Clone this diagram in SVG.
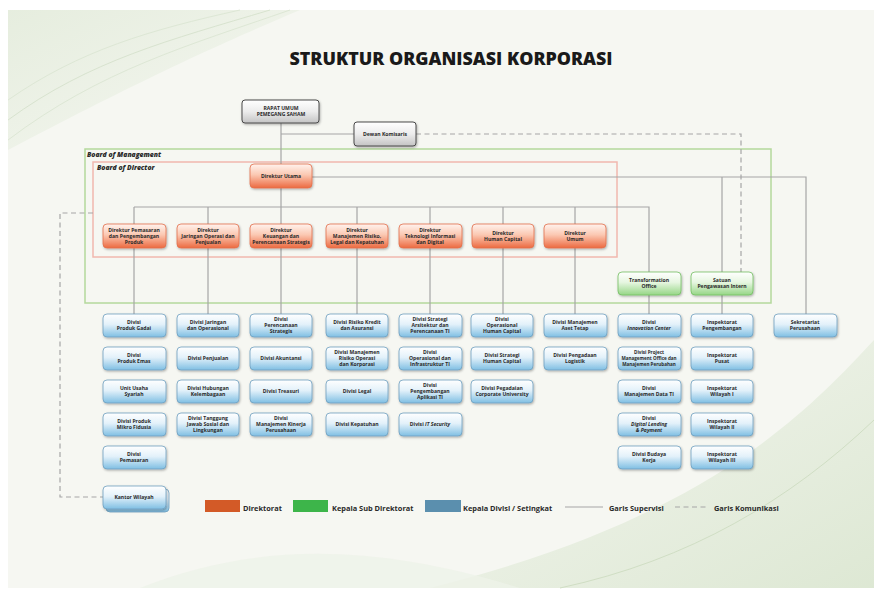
<svg xmlns="http://www.w3.org/2000/svg" width="881" height="594" viewBox="0 0 881 594">
<defs>
<linearGradient id="gOr" x1="0" y1="0" x2="0" y2="1"><stop offset="0" stop-color="#fff3ee"/><stop offset="0.45" stop-color="#fbc8b2"/><stop offset="1" stop-color="#ec6a40"/></linearGradient>
<linearGradient id="gBl" x1="0" y1="0" x2="0" y2="1"><stop offset="0" stop-color="#ffffff"/><stop offset="0.45" stop-color="#e3f1fa"/><stop offset="1" stop-color="#7fbfe3"/></linearGradient>
<linearGradient id="gGr" x1="0" y1="0" x2="0" y2="1"><stop offset="0" stop-color="#ffffff"/><stop offset="0.45" stop-color="#e6f6e0"/><stop offset="1" stop-color="#96d686"/></linearGradient>
<linearGradient id="gGy" x1="0" y1="0" x2="0" y2="1"><stop offset="0" stop-color="#ffffff"/><stop offset="0.5" stop-color="#ececec"/><stop offset="1" stop-color="#c4c4c4"/></linearGradient>
<linearGradient id="bgSw" x1="0" y1="0" x2="1" y2="1"><stop offset="0" stop-color="#dfe9d6"/><stop offset="1" stop-color="#f5f7f1"/></linearGradient>
<linearGradient id="bgSw2" x1="0" y1="0" x2="1" y2="1"><stop offset="0" stop-color="#f5f7f1"/><stop offset="1" stop-color="#d7e4cc"/></linearGradient>
<filter id="sh" x="-10%" y="-10%" width="125%" height="140%"><feDropShadow dx="0.8" dy="1.2" stdDeviation="0.8" flood-color="#000" flood-opacity="0.3"/></filter>
</defs>
<style>
.t{font-family:"Open Sans","Liberation Sans",sans-serif;font-weight:700;font-size:5.1px;fill:#2a2a2a;text-anchor:middle}
.or{fill:url(#gOr);stroke:#e2704c;stroke-width:0.8}
.bl{fill:url(#gBl);stroke:#6f9fbf;stroke-width:0.8}
.gr{fill:url(#gGr);stroke:#74bf62;stroke-width:0.8}
.gy{fill:url(#gGy);stroke:#4a4a4a;stroke-width:1}
.ln{fill:none;stroke:#a6a6a6;stroke-width:1.2}
.dl{fill:none;stroke:#a6a6a6;stroke-width:1.2;stroke-dasharray:5 3.5}
.lg{font-family:"Open Sans","Liberation Sans",sans-serif;font-weight:700;font-size:7.4px;fill:#2a2a2a}
.bd{font-family:"Open Sans","Liberation Sans",sans-serif;font-weight:800;font-style:italic;font-size:6.8px;fill:#2a2a2a}
</style>
<rect x="0" y="0" width="881" height="594" fill="#ffffff"/>
<rect x="8" y="10" width="866" height="578" fill="#f6f7f2"/>
<path d="M8 10 L300 10 C230 40 160 70 8 150 Z" fill="url(#bgSw)" opacity="0.7"/>
<path d="M8 120 C90 60 170 40 270 10" fill="none" stroke="#d8e3cf" stroke-width="1"/>
<path d="M8 140 C100 70 190 45 290 10" fill="none" stroke="#dde7d5" stroke-width="1"/>
<path d="M8 100 C80 50 150 30 240 10" fill="none" stroke="#dde7d5" stroke-width="1"/>
<path d="M874 340 C800 420 700 520 430 588 L874 588 Z" fill="url(#bgSw2)" opacity="0.8"/>
<path d="M874 420 C790 500 690 560 560 588" fill="none" stroke="#d0dec4" stroke-width="1"/>
<path d="M140 588 C260 540 380 545 520 588" fill="#eef2e8" opacity="0.8"/>

<text x="451" y="65" text-anchor="middle" textLength="323" lengthAdjust="spacingAndGlyphs" style="font-family:'Open Sans','Liberation Sans',sans-serif;font-weight:800;font-size:17px;fill:#1a1a1a">STRUKTUR ORGANISASI KORPORASI</text>

<!-- board frames -->
<rect x="85" y="149" width="686" height="154" fill="none" stroke="#b4d99c" stroke-width="1.5"/>
<text class="bd" x="87" y="157">Board of Management</text>
<rect x="93" y="162" width="524" height="95" fill="none" stroke="#f1b8ae" stroke-width="1.5"/>
<text class="bd" x="97" y="170">Board of Director</text>

<g id="connectors">
<path class="ln" d="M281 123 V164 M281 134 H354 M312 177 H806 V314 M722 177 V272 M722 295 V314 M281 188 V224 M134 207 H649 V272 M649 295 V314"/>
<path class="ln" d="M134 207 V224 M208 207 V224 M357 207 V224 M430 207 V224 M503 207 V224 M575 207 V224"/>
<path class="ln" d="M134 248 V314 M208 248 V314 M281 248 V314 M357 248 V314 M430 248 V314 M503 248 V314 M575 248 V314"/>
<path class="dl" d="M416 134 H741 V272"/>
<path class="dl" d="M93 213 H60 V497 H103"/>
</g>

<g id="rups"><rect class="gy" x="242" y="100" width="77" height="23" rx="3" filter="url(#sh)"/><text class="t" x="281" y="110"><tspan x="281">RAPAT UMUM</tspan><tspan x="281" dy="6">PEMEGANG SAHAM</tspan></text></g>
<g id="dekom"><rect class="gy" x="354" y="122" width="62" height="24" rx="3" filter="url(#sh)"/><text class="t" x="385" y="136">Dewan Komisaris</text></g>

<g id="dirut"><rect class="or" x="250" y="164" width="62" height="24" rx="4" filter="url(#sh)"/><text class="t" x="281" y="178">Direktur Utama</text></g>

<g id="d1"><rect class="or" x="103" y="224" width="63" height="24" rx="4" filter="url(#sh)"/><text class="t" x="134" y="232"><tspan x="134">Direktur Pemasaran</tspan><tspan x="134" dy="6">dan Pengembangan</tspan><tspan x="134" dy="6">Produk</tspan></text></g>
<g id="d2"><rect class="or" x="177" y="224" width="62" height="24" rx="4" filter="url(#sh)"/><text class="t" x="208" y="232"><tspan x="208">Direktur</tspan><tspan x="208" dy="6">Jaringan Operasi dan</tspan><tspan x="208" dy="6">Penjualan</tspan></text></g>
<g id="d3"><rect class="or" x="250" y="224" width="62" height="24" rx="4" filter="url(#sh)"/><text class="t" x="281" y="232"><tspan x="281">Direktur</tspan><tspan x="281" dy="6">Keuangan dan</tspan><tspan x="281" dy="6">Perencanaan Strategis</tspan></text></g>
<g id="d4"><rect class="or" x="326" y="224" width="62" height="24" rx="4" filter="url(#sh)"/><text class="t" x="357" y="232"><tspan x="357">Direktur</tspan><tspan x="357" dy="6">Manajemen Risiko,</tspan><tspan x="357" dy="6">Legal dan Kepatuhan</tspan></text></g>
<g id="d5"><rect class="or" x="399" y="224" width="63" height="24" rx="4" filter="url(#sh)"/><text class="t" x="430" y="232"><tspan x="430">Direktur</tspan><tspan x="430" dy="6">Teknologi Informasi</tspan><tspan x="430" dy="6">dan Digital</tspan></text></g>
<g id="d6"><rect class="or" x="472" y="224" width="62" height="24" rx="4" filter="url(#sh)"/><text class="t" x="503" y="235"><tspan x="503">Direktur</tspan><tspan x="503" dy="6">Human Capital</tspan></text></g>
<g id="d7"><rect class="or" x="544" y="224" width="62" height="24" rx="4" filter="url(#sh)"/><text class="t" x="575" y="235"><tspan x="575">Direktur</tspan><tspan x="575" dy="6">Umum</tspan></text></g>

<g id="to"><rect class="gr" x="618" y="272" width="63" height="23" rx="4" filter="url(#sh)"/><text class="t" x="649" y="282"><tspan x="649">Transformation</tspan><tspan x="649" dy="6">Office</tspan></text></g>
<g id="spi"><rect class="gr" x="691" y="272" width="62" height="23" rx="4" filter="url(#sh)"/><text class="t" x="722" y="282"><tspan x="722">Satuan</tspan><tspan x="722" dy="6">Pengawasan Intern</tspan></text></g>

<!-- column 1 -->
<g id="c1r1"><rect class="bl" x="103" y="314" width="63" height="23" rx="4" filter="url(#sh)"/><text class="t" x="134" y="324"><tspan x="134">Divisi</tspan><tspan x="134" dy="6">Produk Gadai</tspan></text></g>
<g id="c1r2"><rect class="bl" x="103" y="347" width="63" height="23" rx="4" filter="url(#sh)"/><text class="t" x="134" y="357"><tspan x="134">Divisi</tspan><tspan x="134" dy="6">Produk Emas</tspan></text></g>
<g id="c1r3"><rect class="bl" x="103" y="380" width="63" height="23" rx="4" filter="url(#sh)"/><text class="t" x="134" y="390"><tspan x="134">Unit Usaha</tspan><tspan x="134" dy="6">Syariah</tspan></text></g>
<g id="c1r4"><rect class="bl" x="103" y="413" width="63" height="23" rx="4" filter="url(#sh)"/><text class="t" x="134" y="423"><tspan x="134">Divisi Produk</tspan><tspan x="134" dy="6">Mikro Fidusia</tspan></text></g>
<g id="c1r5"><rect class="bl" x="103" y="446" width="63" height="23" rx="4" filter="url(#sh)"/><text class="t" x="134" y="456"><tspan x="134">Divisi</tspan><tspan x="134" dy="6">Pemasaran</tspan></text></g>
<g id="kanwil"><rect class="bl" x="106" y="489" width="63" height="23" rx="4"/><rect class="bl" x="103" y="486" width="63" height="23" rx="4" filter="url(#sh)"/><text class="t" x="134" y="499">Kantor Wilayah</text></g>

<!-- column 2 -->
<g id="c2r1"><rect class="bl" x="177" y="314" width="62" height="23" rx="4" filter="url(#sh)"/><text class="t" x="208" y="324"><tspan x="208">Divisi Jaringan</tspan><tspan x="208" dy="6">dan Operasional</tspan></text></g>
<g id="c2r2"><rect class="bl" x="177" y="347" width="62" height="23" rx="4" filter="url(#sh)"/><text class="t" x="208" y="360">Divisi Penjualan</text></g>
<g id="c2r3"><rect class="bl" x="177" y="380" width="62" height="23" rx="4" filter="url(#sh)"/><text class="t" x="208" y="390"><tspan x="208">Divisi Hubungan</tspan><tspan x="208" dy="6">Kelembagaan</tspan></text></g>
<g id="c2r4"><rect class="bl" x="177" y="413" width="62" height="23" rx="4" filter="url(#sh)"/><text class="t" x="208" y="420"><tspan x="208">Divisi Tanggung</tspan><tspan x="208" dy="6">Jawab Sosial dan</tspan><tspan x="208" dy="6">Lingkungan</tspan></text></g>

<!-- column 3 -->
<g id="c3r1"><rect class="bl" x="250" y="314" width="62" height="23" rx="4" filter="url(#sh)"/><text class="t" x="281" y="321"><tspan x="281">Divisi</tspan><tspan x="281" dy="6">Perencanaan</tspan><tspan x="281" dy="6">Strategis</tspan></text></g>
<g id="c3r2"><rect class="bl" x="250" y="347" width="62" height="23" rx="4" filter="url(#sh)"/><text class="t" x="281" y="360">Divisi Akuntansi</text></g>
<g id="c3r3"><rect class="bl" x="250" y="380" width="62" height="23" rx="4" filter="url(#sh)"/><text class="t" x="281" y="393">Divisi Treasuri</text></g>
<g id="c3r4"><rect class="bl" x="250" y="413" width="62" height="23" rx="4" filter="url(#sh)"/><text class="t" x="281" y="420"><tspan x="281">Divisi</tspan><tspan x="281" dy="6">Manajemen Kinerja</tspan><tspan x="281" dy="6">Perusahaan</tspan></text></g>

<!-- column 4 -->
<g id="c4r1"><rect class="bl" x="326" y="314" width="62" height="23" rx="4" filter="url(#sh)"/><text class="t" x="357" y="324"><tspan x="357">Divisi Risiko Kredit</tspan><tspan x="357" dy="6">dan Asuransi</tspan></text></g>
<g id="c4r2"><rect class="bl" x="326" y="347" width="62" height="23" rx="4" filter="url(#sh)"/><text class="t" x="357" y="354"><tspan x="357">Divisi Manajemen</tspan><tspan x="357" dy="6">Risiko Operasi</tspan><tspan x="357" dy="6">dan Korporasi</tspan></text></g>
<g id="c4r3"><rect class="bl" x="326" y="380" width="62" height="23" rx="4" filter="url(#sh)"/><text class="t" x="357" y="393">Divisi Legal</text></g>
<g id="c4r4"><rect class="bl" x="326" y="413" width="62" height="23" rx="4" filter="url(#sh)"/><text class="t" x="357" y="426">Divisi Kepatuhan</text></g>

<!-- column 5 -->
<g id="c5r1"><rect class="bl" x="399" y="314" width="63" height="23" rx="4" filter="url(#sh)"/><text class="t" x="430" y="321"><tspan x="430">Divisi Strategi</tspan><tspan x="430" dy="6">Arsitektur dan</tspan><tspan x="430" dy="6">Perencanaan TI</tspan></text></g>
<g id="c5r2"><rect class="bl" x="399" y="347" width="63" height="23" rx="4" filter="url(#sh)"/><text class="t" x="430" y="354"><tspan x="430">Divisi</tspan><tspan x="430" dy="6">Operasional dan</tspan><tspan x="430" dy="6">Infrastruktur TI</tspan></text></g>
<g id="c5r3"><rect class="bl" x="399" y="380" width="63" height="23" rx="4" filter="url(#sh)"/><text class="t" x="430" y="387"><tspan x="430">Divisi</tspan><tspan x="430" dy="6">Pengembangan</tspan><tspan x="430" dy="6">Aplikasi TI</tspan></text></g>
<g id="c5r4"><rect class="bl" x="399" y="413" width="63" height="23" rx="4" filter="url(#sh)"/><text class="t" x="430" y="426">Divisi <tspan font-style="italic">IT Security</tspan></text></g>

<!-- column 6 -->
<g id="c6r1"><rect class="bl" x="471" y="314" width="62" height="23" rx="4" filter="url(#sh)"/><text class="t" x="502" y="321"><tspan x="502">Divisi</tspan><tspan x="502" dy="6">Operasional</tspan><tspan x="502" dy="6">Human Capital</tspan></text></g>
<g id="c6r2"><rect class="bl" x="471" y="347" width="62" height="23" rx="4" filter="url(#sh)"/><text class="t" x="502" y="357"><tspan x="502">Divisi Strategi</tspan><tspan x="502" dy="6">Human Capital</tspan></text></g>
<g id="c6r3"><rect class="bl" x="471" y="380" width="62" height="23" rx="4" filter="url(#sh)"/><text class="t" x="502" y="390"><tspan x="502">Divisi Pegadaian</tspan><tspan x="502" dy="6">Corporate University</tspan></text></g>

<!-- column 7 -->
<g id="c7r1"><rect class="bl" x="544" y="314" width="63" height="23" rx="4" filter="url(#sh)"/><text class="t" x="575" y="324"><tspan x="575">Divisi Manajemen</tspan><tspan x="575" dy="6">Aset Tetap</tspan></text></g>
<g id="c7r2"><rect class="bl" x="544" y="347" width="63" height="23" rx="4" filter="url(#sh)"/><text class="t" x="575" y="357"><tspan x="575">Divisi Pengadaan</tspan><tspan x="575" dy="6">Logistik</tspan></text></g>

<!-- column 8 -->
<g id="c8r1"><rect class="bl" x="618" y="314" width="63" height="23" rx="4" filter="url(#sh)"/><text class="t" x="649" y="324"><tspan x="649">Divisi</tspan><tspan x="649" dy="6" font-style="italic">Innovation Center</tspan></text></g>
<g id="c8r2"><rect class="bl" x="618" y="347" width="63" height="23" rx="4" filter="url(#sh)"/><text class="t" x="649" y="354" style="font-size:4.6px"><tspan x="649">Divisi Project</tspan><tspan x="649" dy="6">Management Office dan</tspan><tspan x="649" dy="6">Manajemen Perubahan</tspan></text></g>
<g id="c8r3"><rect class="bl" x="618" y="380" width="63" height="23" rx="4" filter="url(#sh)"/><text class="t" x="649" y="390"><tspan x="649">Divisi</tspan><tspan x="649" dy="6">Manajemen Data TI</tspan></text></g>
<g id="c8r4"><rect class="bl" x="618" y="413" width="63" height="23" rx="4" filter="url(#sh)"/><text class="t" x="649" y="420"><tspan x="649">Divisi</tspan><tspan x="649" dy="6" font-style="italic">Digital Lending</tspan><tspan x="649" dy="6" font-style="italic">&amp; Payment</tspan></text></g>
<g id="c8r5"><rect class="bl" x="618" y="446" width="63" height="23" rx="4" filter="url(#sh)"/><text class="t" x="649" y="456"><tspan x="649">Divisi Budaya</tspan><tspan x="649" dy="6">Kerja</tspan></text></g>

<!-- column 9 -->
<g id="c9r1"><rect class="bl" x="691" y="314" width="62" height="23" rx="4" filter="url(#sh)"/><text class="t" x="722" y="324"><tspan x="722">Inspektorat</tspan><tspan x="722" dy="6">Pengembangan</tspan></text></g>
<g id="c9r2"><rect class="bl" x="691" y="347" width="62" height="23" rx="4" filter="url(#sh)"/><text class="t" x="722" y="357"><tspan x="722">Inspektorat</tspan><tspan x="722" dy="6">Pusat</tspan></text></g>
<g id="c9r3"><rect class="bl" x="691" y="380" width="62" height="23" rx="4" filter="url(#sh)"/><text class="t" x="722" y="390"><tspan x="722">Inspektorat</tspan><tspan x="722" dy="6">Wilayah I</tspan></text></g>
<g id="c9r4"><rect class="bl" x="691" y="413" width="62" height="23" rx="4" filter="url(#sh)"/><text class="t" x="722" y="423"><tspan x="722">Inspektorat</tspan><tspan x="722" dy="6">Wilayah II</tspan></text></g>
<g id="c9r5"><rect class="bl" x="691" y="446" width="62" height="23" rx="4" filter="url(#sh)"/><text class="t" x="722" y="456"><tspan x="722">Inspektorat</tspan><tspan x="722" dy="6">Wilayah III</tspan></text></g>

<!-- column 10 -->
<g id="c10r1"><rect class="bl" x="774" y="314" width="63" height="23" rx="4" filter="url(#sh)"/><text class="t" x="805" y="324"><tspan x="805">Sekretariat</tspan><tspan x="805" dy="6">Perusahaan</tspan></text></g>

<g id="legend">
<rect x="205" y="500" width="35" height="12" fill="#d35a27"/>
<text class="lg" x="243" y="511">Direktorat</text>
<rect x="293" y="500" width="35" height="12" fill="#3db54a"/>
<text class="lg" x="332" y="511">Kepala Sub Direktorat</text>
<rect x="425" y="500" width="36" height="12" fill="#5b8fae"/>
<text class="lg" x="463" y="511">Kepala Divisi / Setingkat</text>
<line class="ln" x1="565" y1="507" x2="603" y2="507"/>
<text class="lg" x="609" y="511">Garis Supervisi</text>
<line class="dl" x1="675" y1="507" x2="708" y2="507"/>
<text class="lg" x="714" y="511">Garis Komunikasi</text>
</g>
</svg>
